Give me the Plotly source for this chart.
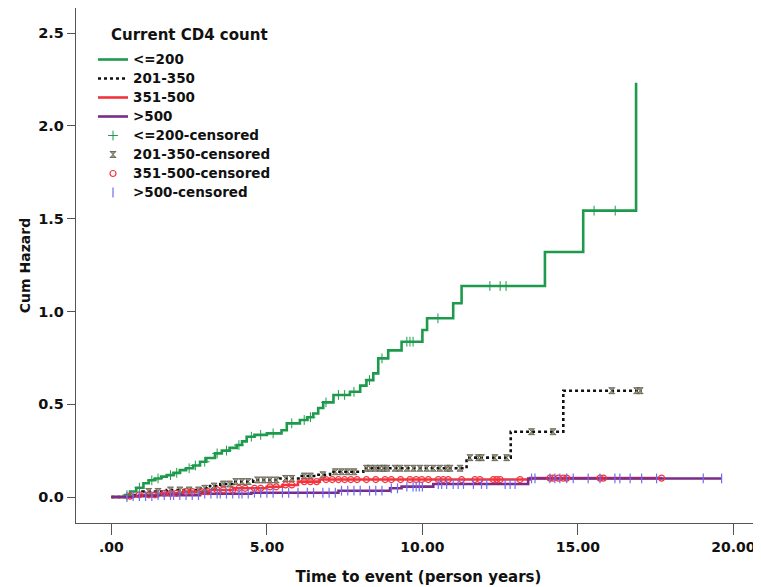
import numpy as np
import plotly.graph_objects as go

# ---- data ----
groups = ["<=200", "201-350", "351-500", ">500"]

t_le200 = [0, 0.44, 0.6, 0.8, 1.03, 1.2, 1.4, 1.6, 1.78, 2.0, 2.2, 2.4, 2.63, 2.85, 3.05, 3.33, 3.55, 3.8,
           4.03, 4.2, 4.35, 4.6, 5.0, 5.47, 5.64, 6.06, 6.3, 6.49, 6.65, 6.81, 7.14, 7.67, 8.0, 8.2, 8.42,
           8.58, 8.9, 9.33, 10.0, 10.15, 10.99, 11.26, 13.94, 15.17, 16.87]
h_le200 = [0, 0.01, 0.03, 0.05, 0.074, 0.09, 0.10, 0.11, 0.118, 0.13, 0.145, 0.155, 0.17, 0.19, 0.21, 0.235,
           0.25, 0.265, 0.28, 0.30, 0.325, 0.335, 0.343, 0.36, 0.397, 0.415, 0.43, 0.45, 0.48, 0.51, 0.55,
           0.567, 0.60, 0.63, 0.666, 0.747, 0.79, 0.837, 0.90, 0.963, 1.044, 1.137, 1.32, 1.543, 2.232]

t_201 = [0, 0.7, 1.0, 1.78, 2.85, 3.17, 3.5, 3.92, 4.56, 5.42, 6.06, 6.6, 7.03, 8.1, 11.42, 12.84, 14.53, 17.05]
h_201 = [0, 0.01, 0.03, 0.038, 0.047, 0.059, 0.07, 0.083, 0.092, 0.10, 0.113, 0.12, 0.136, 0.155, 0.212,
         0.352, 0.573, 0.573]

t_351 = [0, 0.44, 0.9, 1.6, 2.31, 3.17, 3.92, 4.99, 5.5, 6.0, 6.7, 13.46, 17.7]
h_351 = [0, 0.005, 0.012, 0.02, 0.029, 0.038, 0.047, 0.055, 0.065, 0.083, 0.094, 0.102, 0.102]

t_500 = [0, 0.7, 1.5, 2.85, 4.5, 7.3, 8.96, 9.33, 10.35, 13.4, 19.62]
h_500 = [0, 0.005, 0.01, 0.018, 0.023, 0.034, 0.047, 0.056, 0.070, 0.10, 0.10]

# censoring times
c_le200 = [0.5, 0.9, 1.3, 1.5, 1.9, 2.1, 2.5, 2.7, 3.0, 3.4, 3.7, 4.1, 4.5, 4.8, 5.2, 5.8, 6.2, 6.4, 6.9,
           7.3, 7.5, 7.8, 8.3, 8.7, 9.5, 9.6, 9.7, 10.5, 12.17, 12.5, 12.69, 15.52, 16.2]
c_201 = [1.2, 1.5, 1.9, 2.2, 2.5, 2.8, 3.0, 3.3, 3.6, 3.8, 4.0, 4.2, 4.4, 4.7, 4.9, 5.1, 5.3, 5.6, 5.8,
         6.2, 6.4, 6.8, 7.2, 7.4, 7.6, 7.8, 8.2, 8.32, 8.48, 8.64, 8.75, 8.86, 9.12, 9.28, 9.5, 9.71, 9.92,
         10.14, 10.35, 10.56, 10.78, 10.89, 11.21, 11.53, 11.8, 11.9, 12.33, 12.71, 13.51, 14.2, 16.09,
         16.89, 17.0]
c_351 = [0.6, 0.9, 1.2, 1.4, 1.7, 1.9, 2.1, 2.4, 2.6, 2.9, 3.1, 3.4, 3.6, 3.9, 4.1, 4.3, 4.6, 4.8, 5.1,
         5.3, 5.6, 5.8, 6.2, 6.4, 6.6, 6.9, 7.1, 7.3, 7.5, 7.7, 7.9, 8.2, 8.5, 8.8, 9.0, 9.3, 9.6, 9.8,
         9.98, 10.19, 10.51, 10.67, 10.83, 11.26, 11.69, 11.85, 12.28, 12.39, 12.5, 13.14, 14.1, 14.2,
         14.37, 14.53, 14.64, 15.71, 15.82, 17.69]
c_500 = [0.5, 0.7, 0.9, 1.1, 1.3, 1.5, 1.7, 1.9, 2.0, 2.2, 2.4, 2.6, 2.8, 3.0, 3.2, 3.4, 3.5, 3.7, 3.9,
         4.1, 4.2, 4.4, 4.6, 4.8, 5.0, 5.2, 5.5, 5.7, 6.0, 6.3, 6.5, 6.8, 7.0, 7.2, 7.4, 7.6, 7.8, 8.0,
         8.3, 8.5, 8.7, 9.0, 9.2, 9.5, 9.7, 9.8, 9.9, 10.0, 10.51, 10.62, 10.78, 10.99, 11.15, 11.32,
         11.64, 11.9, 12.07, 12.66, 12.82, 12.98, 13.51, 13.62, 14.1, 14.26, 14.42, 14.64, 14.85, 15.33,
         15.71, 16.19, 16.35, 16.68, 17.05, 17.53, 19.03, 19.62]

x_ticks = [0, 5, 10, 15, 20]
x_ticklabels = [".00", "5.00", "10.00", "15.00", "20.00"]
y_ticks = [0.0, 0.5, 1.0, 1.5, 2.0, 2.5]
y_ticklabels = ["0.0", "0.5", "1.0", "1.5", "2.0", "2.5"]


def step_value(ts, hs, c):
    idx = np.searchsorted(np.array(ts), np.array(c), side="right") - 1
    return list(np.array(hs)[idx])


GREEN = "#1E9A4C"
BLACK = "#111111"
RED = "#F2343C"
PURPLE = "#7A2C8A"
BLUE = "#6D6DF5"
FONT = "DejaVu Sans"
LEG_SPAN = '<span style="font-size:13.5px">{}</span>'

fig = go.Figure()
line_series = [
    (t_le200, h_le200, groups[0], dict(color=GREEN, width=2.6)),
    (t_201, h_201, groups[1], dict(color=BLACK, width=2.6, dash="dot")),
    (t_351, h_351, groups[2], dict(color=RED, width=2.6)),
    (t_500, h_500, groups[3], dict(color=PURPLE, width=2.6)),
]
for ts, hs, name, ln in line_series:
    fig.add_trace(go.Scatter(x=ts, y=hs, mode="lines", name=LEG_SPAN.format(name),
                             line=dict(shape="hv", **ln)))

cens = [
    (c_le200, t_le200, h_le200, groups[0] + "-censored",
     dict(symbol="cross-thin-open", size=7, color=GREEN, line=dict(color=GREEN, width=1))),
    (c_201, t_201, h_201, groups[1] + "-censored",
     dict(symbol="hourglass", size=6, color="#A59C6E", line=dict(color="#555555", width=0.8))),
    (c_351, t_351, h_351, groups[2] + "-censored",
     dict(symbol="circle-open", size=6, color=RED, line=dict(color=RED, width=1.2))),
    (c_500, t_500, h_500, groups[3] + "-censored",
     dict(symbol="line-ns-open", size=7, color=BLUE, line=dict(color=BLUE, width=1.2))),
]
for cs, ts, hs, name, mk in cens:
    fig.add_trace(go.Scatter(x=cs, y=step_value(ts, hs, cs), mode="markers",
                             name=LEG_SPAN.format(name), marker=mk))

# page has an 8px body margin: figure is offset by (8, 8)
W, H = 753, 579
ML, MT, MB = 68, 0, 64
PW, PH = W - ML, H - MT - MB

fig.update_layout(
    width=W, height=H,
    margin=dict(l=ML, r=0, t=MT, b=MB),
    paper_bgcolor="white", plot_bgcolor="white",
    font=dict(family=FONT, size=14, color="#111111"),
    showlegend=True,
    legend=dict(x=(85 - ML) / PW, y=1 - (37 - MT) / PH, xanchor="left", yanchor="top",
                bgcolor="rgba(0,0,0,0)", font=dict(family=FONT, size=12, color="#111111", weight="bold"),
                itemwidth=30, tracegroupgap=0),
    annotations=[dict(text="<b>Current CD4 count</b>", xref="paper", yref="paper",
                      x=(101 - ML) / PW, y=1 - (27 - MT) / PH, xanchor="left", yanchor="middle",
                      showarrow=False, font=dict(family=FONT, size=15, color="#111111"))],
    xaxis=dict(range=[-1.138, 20.887], tickvals=x_ticks, ticktext=x_ticklabels,
               showgrid=False, zeroline=False, showline=True, linecolor="#555555", linewidth=1.3,
               mirror=True, ticks="outside", ticklen=11, tickcolor="#555555", tickwidth=1.3,
               tickfont=dict(family=FONT, size=14, weight="bold"),
               title=dict(text="<b>Time to event (person years)</b>", font=dict(family=FONT, size=15), standoff=17)),
    yaxis=dict(range=[-0.14, 2.635], tickvals=y_ticks, ticktext=y_ticklabels,
               showgrid=False, zeroline=False, showline=True, linecolor="#555555", linewidth=1.3,
               ticks="outside", ticklen=8, tickcolor="#555555", tickwidth=1.3,
               tickfont=dict(family=FONT, size=14.5, weight="bold"),
               title=dict(text="<b>Cum Hazard</b>", font=dict(family=FONT, size=14), standoff=4)),
)

fig.write_html("out.html")
